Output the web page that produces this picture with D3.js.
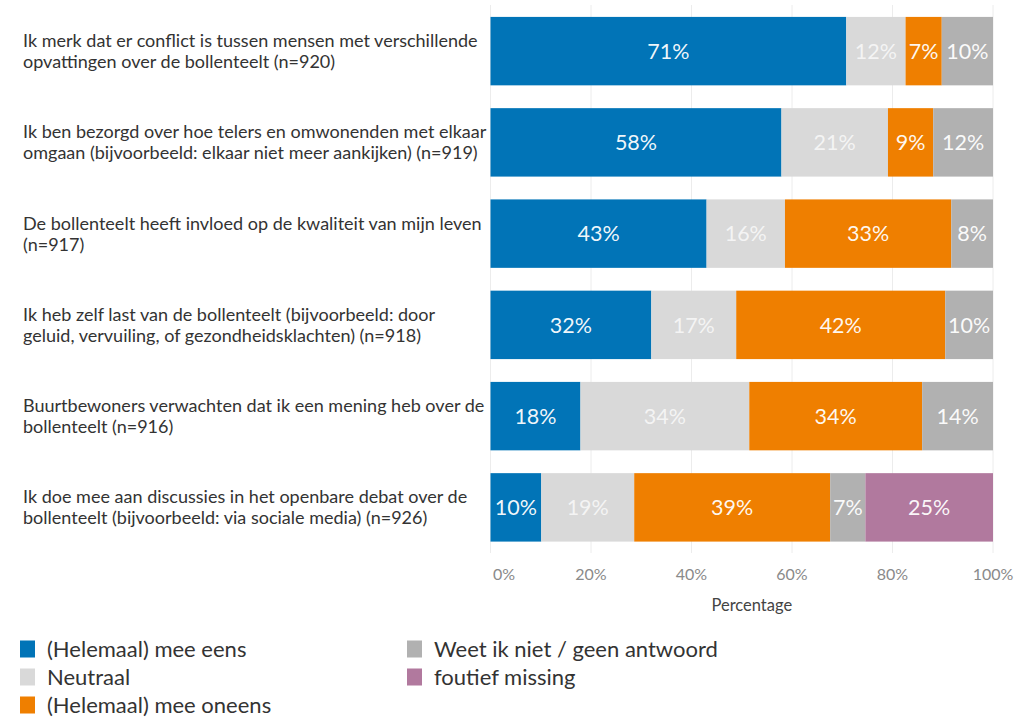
<!DOCTYPE html>
<html><head><meta charset="utf-8">
<script src="https://cdn.jsdelivr.net/npm/d3@7"></script>
<style>
html,body{margin:0;padding:0;background:#fff;}
svg{display:block;}
text{font-family:Lato,"Open Sans",sans-serif;}
</style></head>
<body><svg id="c" width="1016" height="717"></svg>
<script>
// ---- data ----
const categories = [
  ["Ik merk dat er conflict is tussen mensen met verschillende","opvattingen over de bollenteelt (n=920)"],
  ["Ik ben bezorgd over hoe telers en omwonenden met elkaar","omgaan (bijvoorbeeld: elkaar niet meer aankijken) (n=919)"],
  ["De bollenteelt heeft invloed op de kwaliteit van mijn leven","(n=917)"],
  ["Ik heb zelf last van de bollenteelt (bijvoorbeeld: door","geluid, vervuiling, of gezondheidsklachten) (n=918)"],
  ["Buurtbewoners verwachten dat ik een mening heb over de","bollenteelt (n=916)"],
  ["Ik doe mee aan discussies in het openbare debat over de","bollenteelt (bijvoorbeeld: via sociale media) (n=926)"]
];
const seriesNames = ["(Helemaal) mee eens","Neutraal","(Helemaal) mee oneens","Weet ik niet / geen antwoord","foutief missing"];
const meeEens   = [70.8, 57.9, 43.0, 32.0, 17.9, 10.1];
const neutraal  = [11.8, 21.2, 15.6, 16.9, 33.6, 18.5];
const meeOneens = [7.2, 9.0, 33.1, 41.6, 34.4, 39.0];
const weetNiet  = [10.2, 11.9, 8.3, 9.5, 14.1, 7.0];
const missing   = [0, 0, 0, 0, 0, 25.4];
const tickValues = [0, 20, 40, 60, 80, 100];
const colors = ["#0174b7", "#d9d9d9", "#ef7f00", "#b1b1b1", "#b1799e"];

// ---- build ----
const svg = d3.select("#c");
const keys = ["a","b","c","d","e"];
const rows = categories.map((c,i)=>({id:i, a:meeEens[i], b:neutraal[i], c:meeOneens[i], d:weetNiet[i], e:missing[i]}));
const stack = d3.stack().keys(keys)(rows);

const x = d3.scaleLinear().domain([0,100]).range([490.5, 993]);
const y = d3.scaleBand().domain(d3.range(categories.length)).range([5.5, 553]).paddingInner(0.25).paddingOuter(0.125);
const color = d3.scaleOrdinal().domain(keys).range(colors);

// gridlines
svg.append("g").selectAll("line").data(tickValues).join("line")
  .attr("x1", d=>x(d)).attr("x2", d=>x(d))
  .attr("y1", 5).attr("y2", 553)
  .attr("stroke", "#ececec").attr("stroke-width", 1);

// bars
const layer = svg.append("g").selectAll("g").data(stack).join("g")
  .attr("fill", d=>color(d.key));
layer.selectAll("rect").data(d=>d.map(v=>Object.assign(v,{key:d.key}))).join("rect")
  .attr("x", d=>x(d[0])).attr("width", d=>x(d[1])-x(d[0]))
  .attr("y", d=>y(d.data.id)).attr("height", y.bandwidth());

// value labels
layer.selectAll("text").data(d=>d.filter(v=>v[1]-v[0]>0)).join("text")
  .attr("x", d=>(x(d[0])+x(d[1]))/2)
  .attr("y", d=>y(d.data.id)+y.bandwidth()/2)
  .attr("dy","0.36em")
  .attr("text-anchor","middle")
  .attr("font-size", 21.5)
  .attr("fill", d=> d.key==="b" ? "#f6f6f6" : "#ffffff")
  .attr("fill-opacity", 0.95)
  .text(d=>Math.round(d[1]-d[0])+"%");

// category labels
const lab = svg.append("g").selectAll("text").data(categories).join("text")
  .attr("x", 23)
  .attr("y", (d,i)=>y(i)+y.bandwidth()/2)
  .attr("fill", "#333")
  .attr("font-size", 15.5);
lab.selectAll("tspan").data(d=>d).join("tspan")
  .attr("x", 23)
  .attr("dy", (d,j)=> j===0 ? -4 : 21)
  .text(d=>d);
// fit first line width to reference (~455px)
const w0 = lab.nodes()[0].querySelector("tspan").getComputedTextLength();
const fs = 15.5*455/w0;
lab.attr("font-size", fs);

// x axis labels
svg.append("g").selectAll("text").data(tickValues).join("text")
  .attr("x", d=> d===0 ? x(d)+2.5 : x(d))
  .attr("y", 580)
  .attr("text-anchor", d=> d===0 ? "start" : "middle")
  .attr("font-size", 16)
  .attr("fill", "#8a8a8a")
  .text(d=>d+"%");
svg.append("text").attr("x", x(52)).attr("y", 611).attr("text-anchor","middle")
  .attr("font-size", 16.5).attr("fill","#444").text("Percentage");

// legend
const legPos = [[20,649],[20,677],[20,705],[407,649],[407,677]];
const leg = svg.append("g").selectAll("g").data(seriesNames).join("g")
  .attr("transform",(d,i)=>`translate(${legPos[i][0]},${legPos[i][1]})`);
leg.append("rect").attr("x",0).attr("y",-8.5).attr("width",15).attr("height",17)
  .attr("fill",(d,i)=>colors[i]);
leg.append("text").attr("x",27).attr("y",0).attr("dy","0.36em")
  .attr("font-size",22).attr("fill","#333").text(d=>d);
</script></body></html>
